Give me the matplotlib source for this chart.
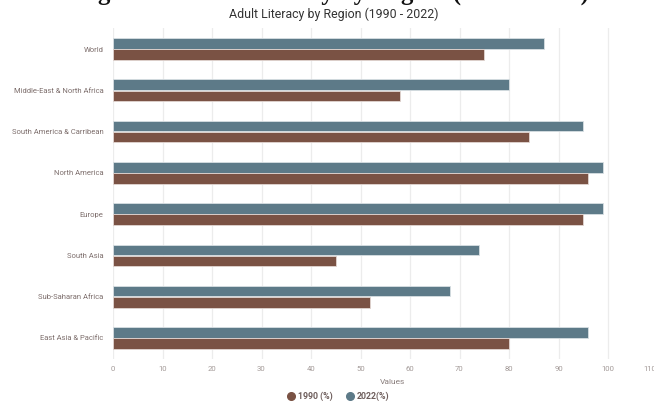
import numpy as np
import matplotlib.pyplot as plt
import matplotlib.transforms as mtransforms
from matplotlib.lines import Line2D

# Data
regions = ['World', 'Middle-East & North Africa', 'South America & Carribean',
           'North America', 'Europe', 'South Asia', 'Sub-Saharan Africa',
           'East Asia & Pacific']
lit_1990 = [75, 58, 84, 96, 95, 45, 52, 80]
lit_2022 = [87, 80, 95, 99, 99, 74, 68, 96]
x_ticks = [0, 10, 20, 30, 40, 50, 60, 70, 80, 90, 100, 110]

c_1990 = '#7a5244'
c_2022 = '#5d7a88'

plt.rcParams['font.family'] = ['Roboto', 'DejaVu Sans']

fig = plt.figure(figsize=(6.54, 4.03), dpi=100)
ax = fig.add_axes([0.1728, 0.1102, 0.8326, 0.8193])

y = np.arange(len(regions))
h = 0.255
ax.barh(y - 0.135, lit_2022, height=h, color=c_2022, edgecolor='#d8dfe3', linewidth=0.6, zorder=3)
ax.barh(y + 0.135, lit_1990, height=h, color=c_1990, edgecolor='#e2d6d2', linewidth=0.6, zorder=3)

ax.set_xlim(0, 110)
ax.set_ylim(len(regions) - 0.5, -0.5)
ax.set_xticks(x_ticks)
ax.set_yticks(y)
ax.set_yticklabels(regions)
ax.tick_params(axis='y', length=0, pad=7, labelsize=5.5, labelcolor='#7d6e6c')
ax.tick_params(axis='x', length=0, pad=5, labelsize=5.6, labelcolor='#a39a98')
ax.grid(axis='x', color='#ececec', linewidth=0.9, zorder=0)
for s in ax.spines.values():
    s.set_visible(False)

# last tick label sits partly off the right edge, as in the reference
last = ax.get_xticklabels()[-1]
last.set_transform(last.get_transform() +
                   mtransforms.ScaledTranslation(-8 / 100, 0, fig.dpi_scale_trans))

ax.set_xlabel('Values', fontsize=6, color='#8a7f7d', labelpad=4)
ax.xaxis.set_label_coords(0.514, -0.062)

# caption of the page, cut off at the top edge in the reference
fig.text(0.509, 1.0, 'Figure 1: Adult Literacy by Region (1990 - 2022)',
         ha='center', va='baseline', fontsize=17.8, fontweight='bold',
         family='Liberation Serif', color='#111111')
fig.text(0.511, 1 - 14 / 403, 'Adult Literacy by Region (1990 - 2022)',
         ha='center', va='center', fontsize=8.9, color='#333333')

handles = [Line2D([], [], marker='o', ls='', color=c_1990, markersize=5.5),
           Line2D([], [], marker='o', ls='', color=c_2022, markersize=5.5)]
leg = fig.legend(handles, ['1990 (%)', '2022(%)'], loc='center',
                 bbox_to_anchor=(0.517, 1 - 396 / 403), ncol=2, frameon=False,
                 prop={'size': 6.3, 'weight': 'bold'}, handletextpad=0.3,
                 columnspacing=1.4, handlelength=1.0)
for t in leg.get_texts():
    t.set_color('#6e5e5c')

fig.savefig('out.png', dpi=100)
